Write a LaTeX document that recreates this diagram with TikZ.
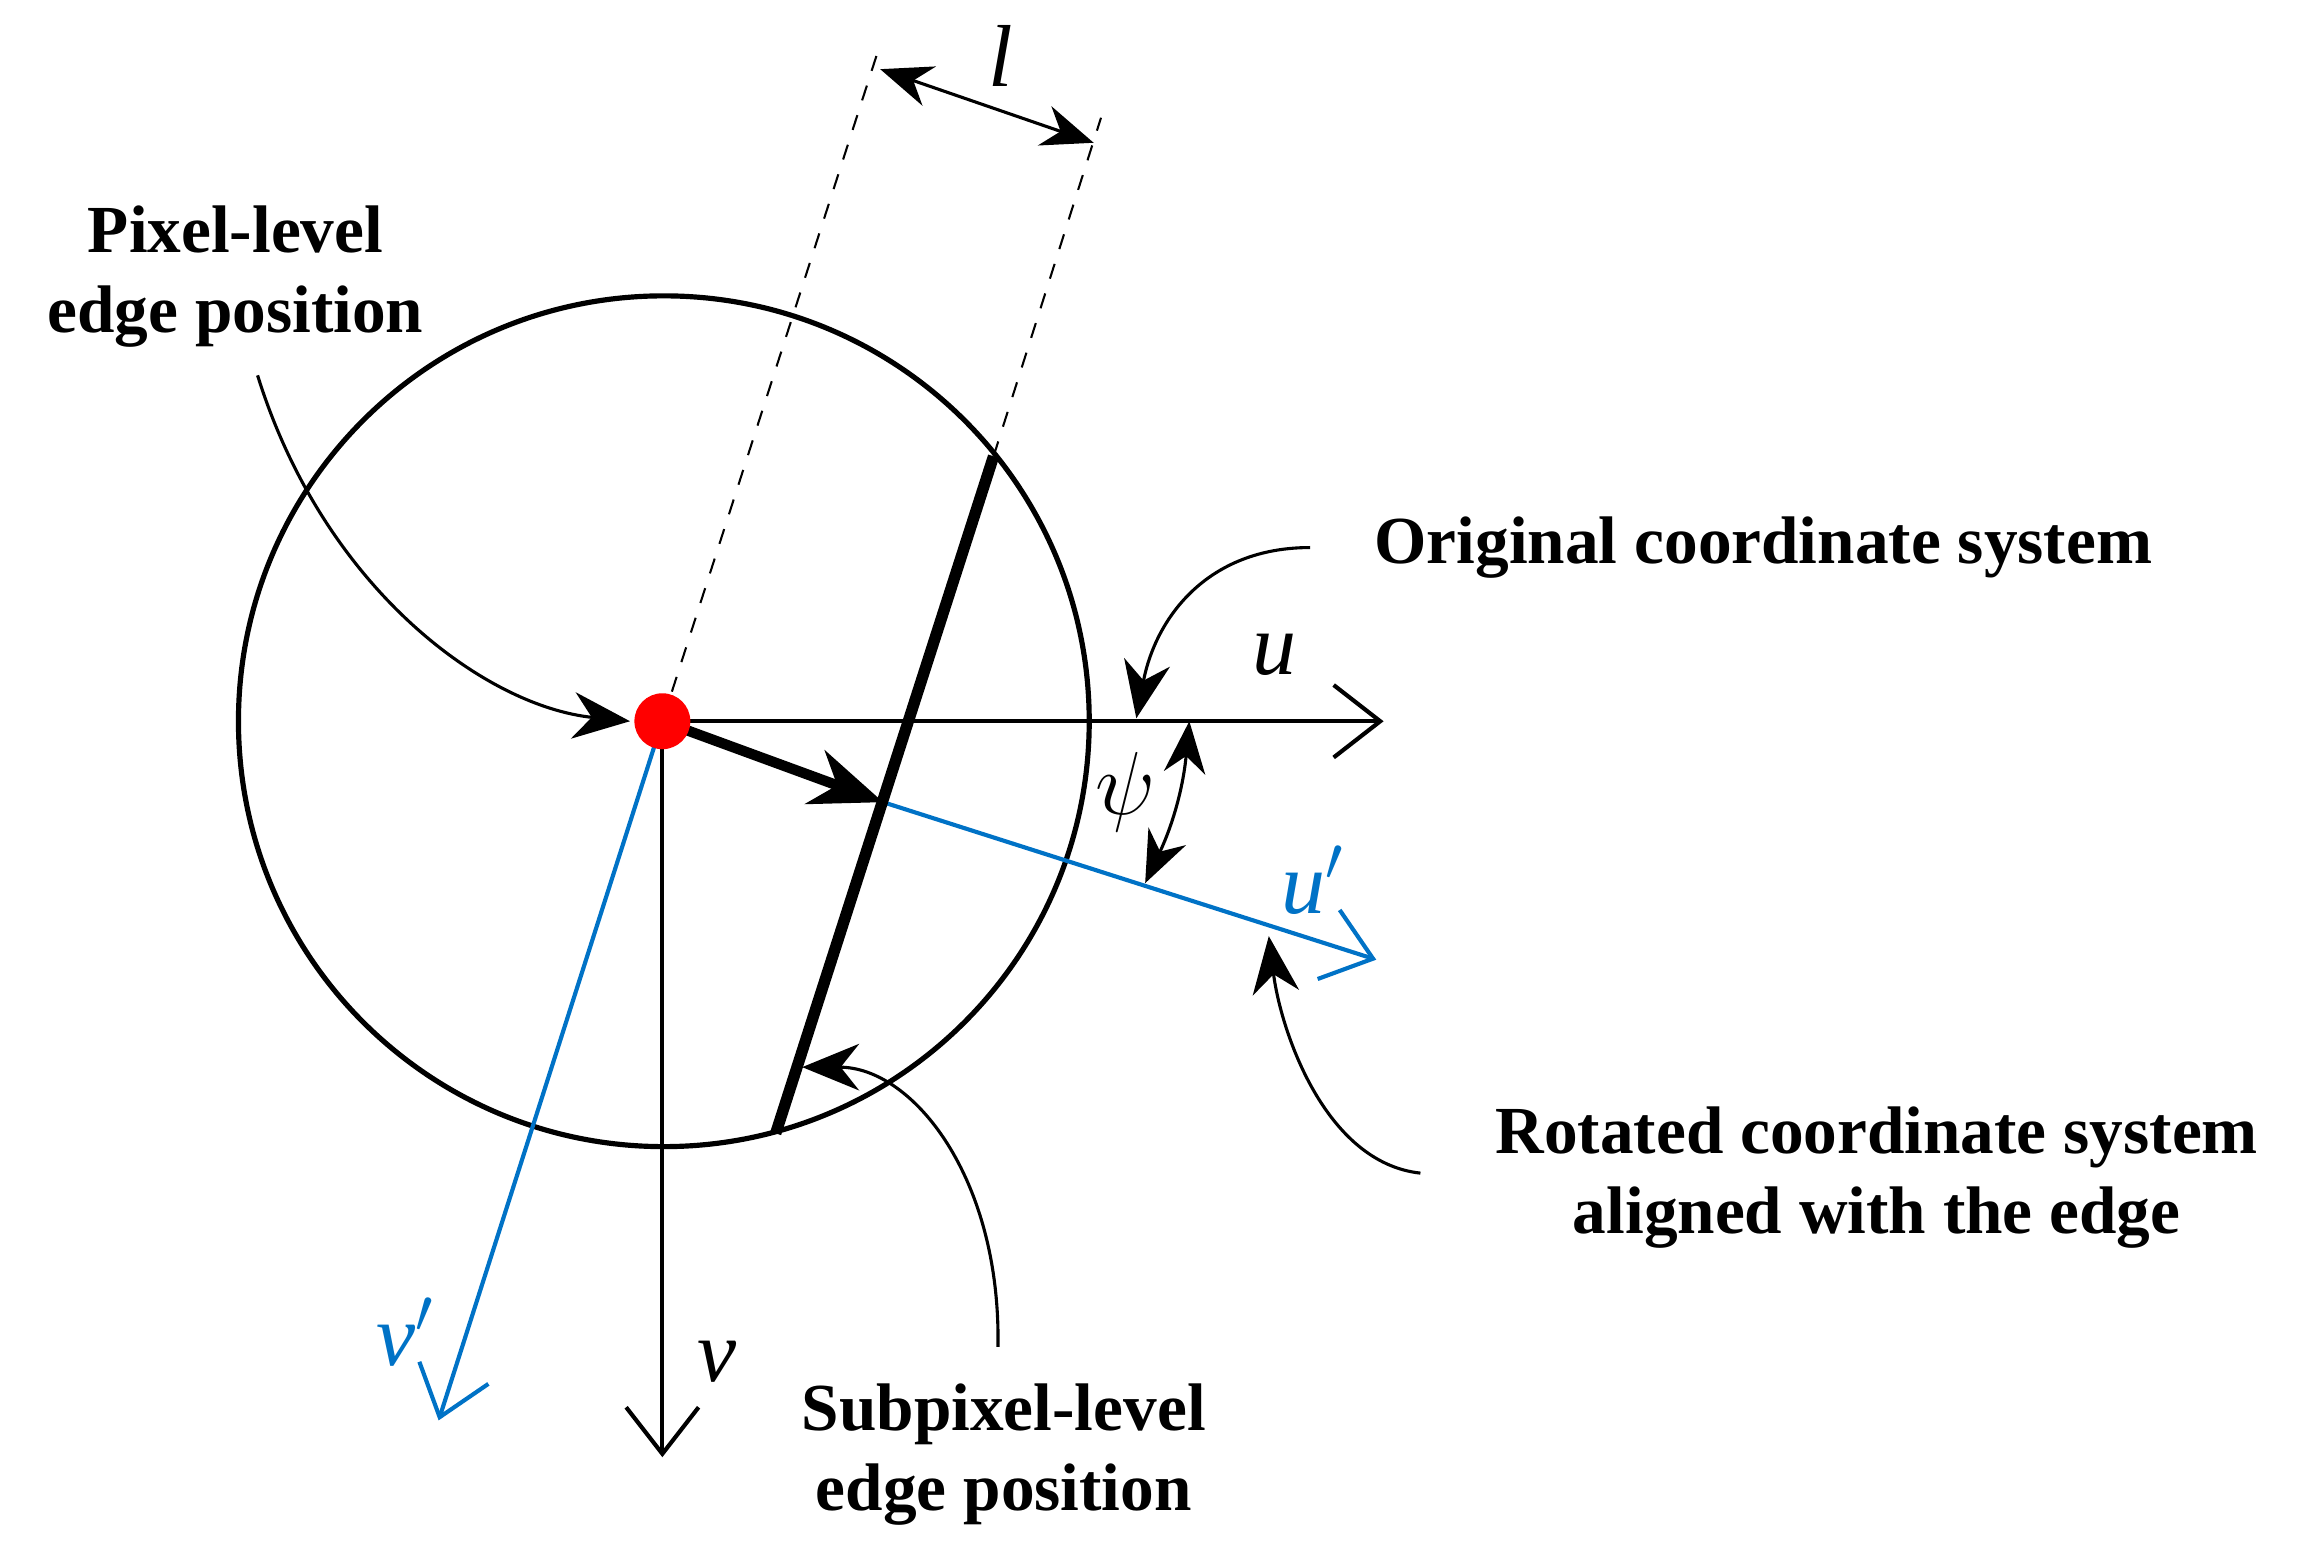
\documentclass[tikz,border=0pt]{standalone}
\usepackage{fontspec}
\setmainfont{Liberation Serif}
\usetikzlibrary{arrows.meta}
\begin{document}
\begin{tikzpicture}[x=0.01cm,y=-0.01cm,
  lbl/.style={font=\fontsize{13}{15.5}\selectfont\bfseries,align=center},
  ax/.style={line width=0.8pt,-{Straight Barb[length=9pt,width=14pt]}},
  bx/.style={ax,draw={rgb,255:red,0;green,114;blue,198}},
  crv/.style={line width=0.6pt,-{Stealth[length=11pt,width=9pt]}},
  mlab/.style={font=\fontsize{17}{17}\selectfont\itshape}]
\definecolor{bl}{RGB}{0,114,198}
\useasboundingbox (0,0) rectangle (1568,1052);
\draw[line width=1pt] (451,490) circle (289);
\coordinate (O) at (450,490);
\coordinate (E1) at (675,310);
\coordinate (E2) at (527,770);
\coordinate (U) at (940,490);
\coordinate (V) at (450,990);
\coordinate (Up) at (935,652);
\coordinate (Vp) at (298,965);
\coordinate (S) at (600,545);
\draw[bx] (S) -- (Up);
\draw[bx] (O) -- (Vp);
\draw[ax] (O) -- (U);
\draw[ax] (O) -- (V);
\draw[line width=2.2pt] (E1) -- (E2);
\draw[line width=2pt,-{Stealth[length=14pt,width=11pt]}] (O) -- (S);
\coordinate (D1) at (598,30);
\coordinate (D2) at (748,80);
\draw[dashed,line width=0.4pt] (O) -- (D1);
\draw[dashed,line width=0.4pt] (E1) -- (D2);
\draw[line width=0.6pt,{Stealth[length=10pt,width=8pt]}-{Stealth[length=10pt,width=8pt]}] (598,47) -- (743,97);
\node[mlab] (l) at (680,38) {l};
\draw[line width=0.6pt,{Stealth[length=10pt,width=8pt]}-{Stealth[length=10pt,width=8pt]}] (808,490) to[bend left=10] (778,600);
\node[mlab] (psi) at (765,538) {$\psi$};
\fill[red] (O) circle (19);
\node[mlab] (ul) at (866,445) {u};
\node[mlab,text=bl] (upl) at (892,598) {u$'$};
\node[mlab,text=bl] (vpl) at (276,905) {v$'$};
\node[mlab] (vl) at (487,925) {v};
\node[lbl] (pix) at (160,188) {Pixel-level\\edge position};
\node[lbl] (orig) at (1198,372) {Original coordinate system};
\node[lbl] (rot) at (1275,800) {Rotated coordinate system\\aligned with the edge};
\node[lbl] (sub) at (682,988) {Subpixel-level\\edge position};
\draw[crv] (175,255) .. controls (220,400) and (330,480) .. (428,490);
\draw[crv] (890,372) .. controls (820,372) and (785,420) .. (772,488);
\draw[crv] (965,797) .. controls (900,790) and (870,700) .. (862,636);
\draw[crv] (678,915) .. controls (680,800) and (620,725) .. (545,725);
\end{tikzpicture}
\end{document}
